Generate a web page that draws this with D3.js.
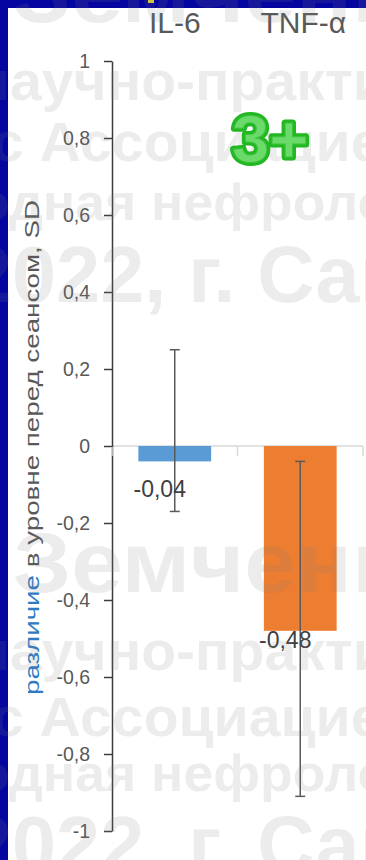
<!DOCTYPE html>
<html>
<head>
<meta charset="utf-8">
<script src="https://cdn.jsdelivr.net/npm/d3@7"></script>
<style>
  html, body { margin: 0; padding: 0; background: #ffffff; }
  svg { display: block; }
  text { font-family: "Liberation Sans", Arial, sans-serif; }
</style>
</head>
<body>
<svg id="chart" width="366" height="860"></svg>
<script>
// ---- data ----
const categories = ["IL-6", "TNF-α"];
const values = [-0.04, -0.48];
const errorUpper = [0.25, -0.04];
const errorLower = [-0.17, -0.91];
const yTicks = [-1, -0.8, -0.6, -0.4, -0.2, 0, 0.2, 0.4, 0.6, 0.8, 1];
const axisTitleHighlight = "различие";
const axisTitleRest = " в уровне перед сеансом, SD";
const badgeText = "3+";
const watermarkLines = [
  "Земченков",
  "научно-практической",
  "с Ассоциацией",
  "Международная нефрологическая",
  "2022, г. Санкт-Петербург"
];

// ---- drawing ----
const W = 366, H = 860;
const svg = d3.select("#chart");
const palette = ["#5b9bd5", "#ed7d31"];
const ink = "#595959";

// slide frame and white plot card
svg.append("rect").attr("width", W).attr("height", H).attr("fill", "#0505a0");
svg.append("rect").attr("x", 8).attr("y", 8).attr("width", W - 8).attr("height", H - 8).attr("fill", "#ffffff");
svg.append("rect").attr("x", 148).attr("y", 0).attr("width", 6).attr("height", 3).attr("fill", "#e2cf2a");

const y = d3.scaleLinear().domain([-1, 1]).range([831, 61]);
const x = d3.scaleBand().domain(categories).range([112, 363])
  .paddingInner(0.42).paddingOuter(0.21);

const locale = d3.formatLocale({ decimal: ",", thousands: " ", grouping: [3], currency: ["", ""], minus: "-" });
const fmt = locale.format("~g");
const fmt2 = locale.format(".2f");

// category axis along zero with boundary ticks
const catAxis = svg.append("g");
catAxis.append("line")
  .attr("x1", x.range()[0]).attr("x2", x.range()[1])
  .attr("y1", y(0)).attr("y2", y(0))
  .attr("stroke", "#d9d9d9").attr("stroke-width", 1.5);

// bars
svg.append("g").selectAll("rect").data(categories).join("rect")
  .attr("x", d => x(d))
  .attr("width", x.bandwidth())
  .attr("y", (d, i) => Math.min(y(0), y(values[i])))
  .attr("height", (d, i) => Math.abs(y(values[i]) - y(0)))
  .attr("fill", (d, i) => palette[i]);

const bounds = d3.range(categories.length + 1).map(i => x.range()[0] + i * x.step());
catAxis.selectAll("line.tick").data(bounds).join("line")
  .attr("class", "tick")
  .attr("x1", d => d).attr("x2", d => d)
  .attr("y1", y(0)).attr("y2", y(0) + 10)
  .attr("stroke", "#d9d9d9").attr("stroke-width", 1.5);

// value axis
const yAxis = svg.append("g")
  .attr("transform", `translate(${x.range()[0]},0)`)
  .call(d3.axisLeft(y).tickValues(yTicks).tickSize(8).tickSizeOuter(0).tickPadding(14).tickFormat(fmt));
yAxis.select(".domain").attr("stroke", "#3c3c3c").attr("stroke-width", 1.5);
yAxis.selectAll(".tick line").attr("stroke", "#3c3c3c").attr("stroke-width", 1.5);
yAxis.selectAll(".tick text")
  .attr("fill", ink).style("font-size", "19.5px")
  .style("font-family", "'Liberation Sans', Arial, sans-serif");

// redraw the zero-line stub over the value axis
svg.append("line")
  .attr("x1", x.range()[0]).attr("x2", x.range()[0])
  .attr("y1", y(0) + 1).attr("y2", y(0) + 10)
  .attr("stroke", "#d9d9d9").attr("stroke-width", 1.5);

// error bars
const eb = svg.append("g").attr("stroke", "#5a5a5a").attr("stroke-width", 1.5);
categories.forEach((c, i) => {
  const cx = x(c) + x.bandwidth() / 2;
  eb.append("line").attr("x1", cx).attr("x2", cx).attr("y1", y(errorUpper[i])).attr("y2", y(errorLower[i]));
  [errorUpper[i], errorLower[i]].forEach(v => {
    eb.append("line").attr("x1", cx - 5).attr("x2", cx + 5).attr("y1", y(v)).attr("y2", y(v));
  });
});

// value labels
const labelDy = [36, 17];
svg.append("g").selectAll("text").data(categories).join("text")
  .attr("x", d => x(d) + x.bandwidth() / 2 - 15)
  .attr("y", (d, i) => y(values[i]) + labelDy[i])
  .attr("text-anchor", "middle")
  .attr("fill", "#404040")
  .style("font-size", "23px")
  .text((d, i) => fmt2(values[i]));

// category labels on top
svg.append("g").selectAll("text").data(categories).join("text")
  .attr("x", (d, i) => x(d) + x.bandwidth() / 2 + (i ? 3 : 0))
  .attr("y", 33)
  .attr("text-anchor", "middle")
  .attr("fill", ink)
  .style("font-size", "30px")
  .text(d => d);

// axis title
const title = svg.append("text")
  .attr("transform", "translate(39,447.5) rotate(-90)")
  .attr("text-anchor", "middle")
  .attr("textLength", 495)
  .attr("lengthAdjust", "spacingAndGlyphs")
  .style("font-size", "21px");
title.append("tspan").attr("fill", "#2e7bc4").text(axisTitleHighlight);
title.append("tspan").attr("fill", ink).text(axisTitleRest);

// conference watermark across the slide
const wmLayout = [
  { line: 0, skip: 0, x: 13, ys: [22, 592], size: 86, sx: 1.08 },
  { line: 1, skip: 1, x: 10, ys: [100, 670], size: 56, sx: 1.02 },
  { line: 2, skip: 0, x: -8, ys: [161, 736], size: 56, sx: 1.02 },
  { line: 3, skip: 9, x: 9, ys: [220, 791], size: 52, sx: 1.03 },
  { line: 4, skip: 0, x: -32, ys: [302, 872], size: 80, sx: 0.99 }
];
const wm = svg.append("g").attr("fill", "#7f7f7f").attr("fill-opacity", 0.15)
  .style("font-weight", "bold");
wmLayout.forEach(l => {
  l.ys.forEach(yy => {
    const t = wm.append("text").style("font-size", l.size + "px").text(watermarkLines[l.line]);
    const pre = l.skip ? t.node().getSubStringLength(0, l.skip) * l.sx : 0;
    t.attr("transform", `translate(${l.x - pre},${yy}) scale(${l.sx},1)`);
  });
});

// grade badge
const badge = svg.append("g").style("font-weight", "bold").style("font-size", "67px");
badge.append("text").attr("x", 232).attr("y", 162).text(badgeText)
  .attr("fill", "#22b822").attr("stroke", "#22b822").attr("stroke-width", 7).attr("stroke-linejoin", "round");
badge.append("text").attr("x", 232).attr("y", 162).text(badgeText)
  .attr("fill", "#6ada6a").attr("stroke", "#3fc23f").attr("stroke-width", 1);
</script>
</body>
</html>
